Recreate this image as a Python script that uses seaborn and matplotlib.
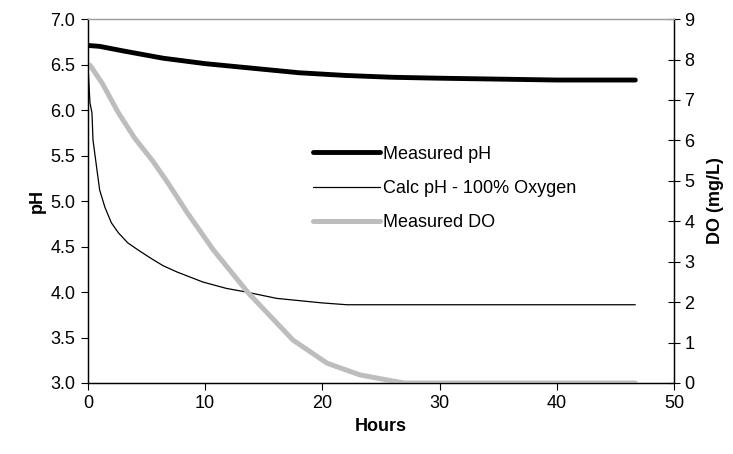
import matplotlib
matplotlib.use("Agg")
import matplotlib.pyplot as plt
import pandas as pd
import seaborn as sns
from matplotlib.lines import Line2D

sns.set_style("white")
plt.rcParams['font.family'] = ['Liberation Sans', 'DejaVu Sans']
plt.rcParams['text.color'] = 'black'
plt.rcParams['axes.labelcolor'] = 'black'

# Measured pH (left axis)
ph_hours = [0, 1, 3, 6.4, 10, 14, 18, 22, 26, 30, 35, 40, 46.7]
ph_meas = [6.71, 6.70, 6.65, 6.57, 6.51, 6.46, 6.41, 6.38, 6.36, 6.35, 6.34, 6.33, 6.33]

# Calculated pH with 100% oxygen (left axis)
calc_hours = [0, 0.17, 0.34, 0.43, 0.77, 1.0, 1.45, 2.0, 2.6, 3.4, 4.3, 5.5, 6.4,
              7.6, 9.8, 11.8, 13.5, 16.1, 20, 22.1, 46.7]
calc_ph = [6.49, 6.08, 5.97, 5.67, 5.34, 5.12, 4.93, 4.76, 4.65, 4.54, 4.46, 4.36, 4.29,
           4.22, 4.11, 4.04, 4.00, 3.93, 3.88, 3.86, 3.86]

# Measured dissolved oxygen (right axis)
do_hours = [0, 0.17, 1.2, 2.6, 4.0, 5.5, 6.7, 8.5, 10.7, 13.7, 17.5, 20.4, 23.2, 26, 27, 46.7]
do_meas = [7.86, 7.86, 7.42, 6.68, 6.05, 5.5, 5.0, 4.2, 3.29, 2.22, 1.06, 0.49, 0.2, 0.05, 0, 0]

ph_df = pd.DataFrame({'Hours': ph_hours, 'pH': ph_meas})
calc_df = pd.DataFrame({'Hours': calc_hours, 'pH': calc_ph})
do_df = pd.DataFrame({'Hours': do_hours, 'DO': do_meas})

fig, ax = plt.subplots(figsize=(7.33, 4.54), dpi=100)
fig.subplots_adjust(left=0.120, right=0.9195, top=0.958, bottom=0.1564)
ax2 = ax.twinx()

do_color = '#bdbdbd'
sns.lineplot(data=do_df, x='Hours', y='DO', ax=ax2, color=do_color, linewidth=3.6,
             estimator=None, sort=False)
sns.lineplot(data=calc_df, x='Hours', y='pH', ax=ax, color='black', linewidth=0.9,
             estimator=None, sort=False)
sns.lineplot(data=ph_df, x='Hours', y='pH', ax=ax, color='black', linewidth=3.5,
             estimator=None, sort=False)

ax.set_xlim(0, 50)
ax.set_ylim(3.0, 7.0)
ax2.set_ylim(0, 9)
ax.set_xticks(range(0, 51, 10))
ax.set_yticks([3.0, 3.5, 4.0, 4.5, 5.0, 5.5, 6.0, 6.5, 7.0])
ax.set_yticklabels([f"{v:.1f}" for v in ax.get_yticks()])
ax2.set_yticks(range(0, 10))

ax.set_xlabel("Hours", fontsize=13, fontweight='bold', labelpad=4)
ax.set_ylabel("pH", fontsize=13, fontweight='bold', labelpad=3)
ax2.set_ylabel("DO (mg/L)", fontsize=13, fontweight='bold', labelpad=9)

ax.tick_params(axis='both', labelsize=13, direction='out', length=5, width=0.8,
               colors='black', left=True, bottom=True, pad=4)
ax2.tick_params(axis='y', labelsize=13, direction='inout', length=9, width=0.8,
                right=True, colors='black', pad=3)

for a in (ax, ax2):
    for side in ('left', 'right', 'bottom'):
        a.spines[side].set_color('black')
        a.spines[side].set_linewidth(0.9)
    a.spines['top'].set_color('#a0a0a0')
    a.spines['top'].set_linewidth(0.9)
    a.grid(False)

handles = [
    Line2D([], [], color='black', linewidth=3.5),
    Line2D([], [], color='black', linewidth=0.9),
    Line2D([], [], color=do_color, linewidth=3.6),
]
labels = ["Measured pH", "Calc pH - 100% Oxygen", "Measured DO"]
ax2.legend(handles, labels, loc='upper left', bbox_to_anchor=(0.384, 0.652),
           frameon=False, fontsize=13, handlelength=3.7, handletextpad=0.2,
           labelspacing=0.95, borderaxespad=0, borderpad=0)

fig.savefig("out.png", dpi=100)
